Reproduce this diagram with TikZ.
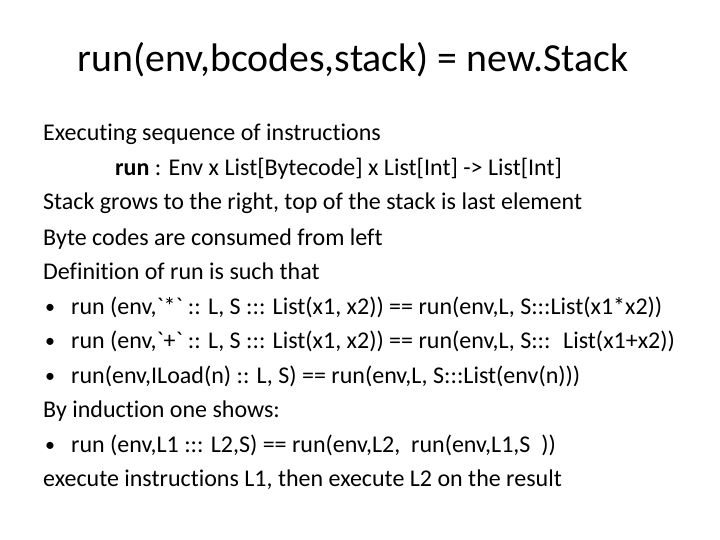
\documentclass[tikz,border=0pt]{standalone}
\usepackage{fontspec}
\setmainfont{Carlito}[Ligatures={TeX,NoCommon}]
\begin{document}
\begin{tikzpicture}[x=1pt,y=-1pt,
  ln/.style={anchor=base west,inner sep=0pt,font=\fontsize{24}{28}\selectfont},
  bul/.style={anchor=base west,inner sep=0pt,font=\fontsize{20}{24}\selectfont}]
\useasboundingbox (0,0) rectangle (720,540);
\node[anchor=base,inner sep=0pt,font=\fontsize{39.8}{46}\selectfont] (title) at (353,72) {run(env,bcodes,stack) = new.Stack};
\node[ln] (l1) at (43,141) {Executing sequence of instructions};
\node[ln] (l2) at (115,176) {\textbf{run} : Env x List[Bytecode] x List[Int] -> List[Int]};
\node[ln] (l3) at (43,210) {Stack grows to the right, top of the stack is last element};
\node[ln] (l4) at (43,245) {Byte codes are consumed from left};
\node[ln] (l5) at (43,279) {Definition of run is such that};
\node[bul] (b1) at (45,313) {•};
\node[ln] (l6) at (71,314) {run (env,\textasciigrave*\textasciigrave\ :: L, S ::: List(x1, x2)) == run(env,L, S:::List(x1*x2))};
\node[bul] (b2) at (45,347) {•};
\node[ln] (l7) at (71,348) {run (env,\textasciigrave+\textasciigrave\ :: L, S ::: List(x1, x2)) == run(env,L, S::: \ List(x1+x2))};
\node[bul] (b3) at (45,382) {•};
\node[ln] (l8) at (71,383) {run(env,ILoad(n) :: L, S) == run(env,L, S:::List(env(n)))};
\node[ln] (l9) at (43,417) {By induction one shows:};
\node[bul] (b4) at (45,451) {•};
\node[ln] (l10) at (71,452) {run (env,L1 ::: L2,S) == run(env,L2, \ run(env,L1,S \ ))};
\node[ln] (l11) at (43,486) {execute instructions L1, then execute L2 on the result};
\end{tikzpicture}
\end{document}
